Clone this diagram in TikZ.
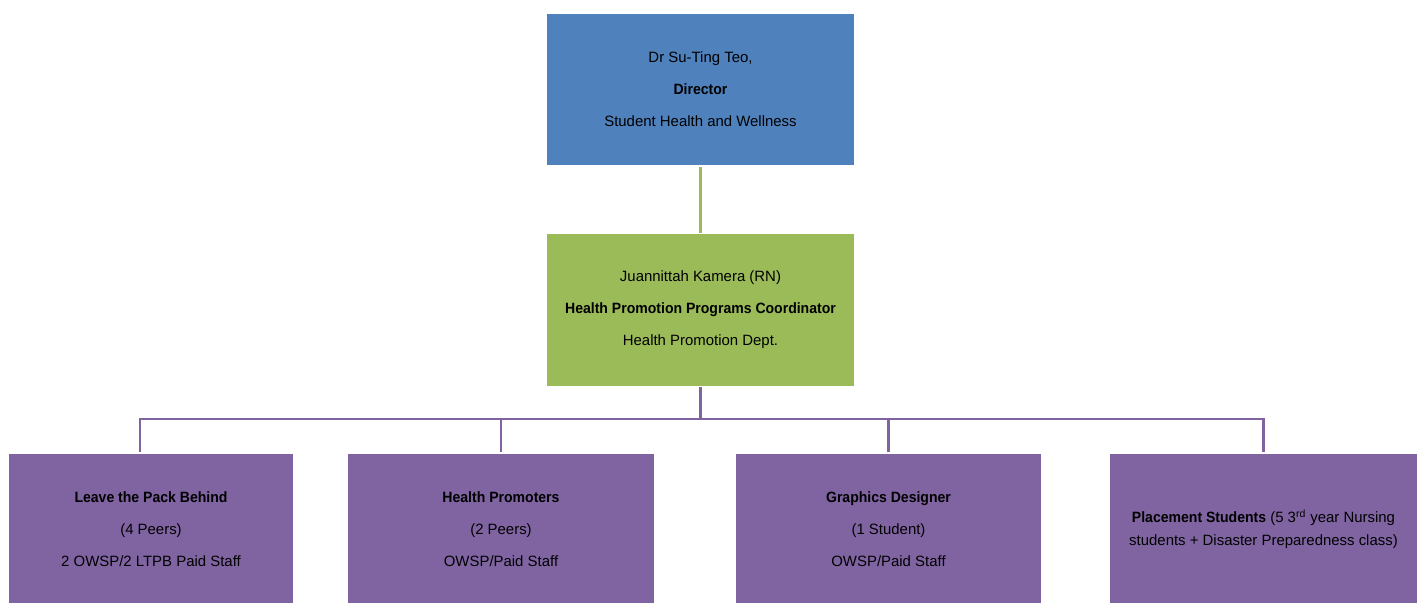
\documentclass[tikz,border=0pt]{standalone}
\usepackage{fontspec}
\setmainfont{Liberation Sans}[BoldFeatures={FakeStretch=0.94}]
\usepackage{xcolor}
\usetikzlibrary{positioning,shadows}
\definecolor{dirblue}{HTML}{4F81BD}
\definecolor{hpgreen}{HTML}{9BBB59}
\definecolor{teampurple}{HTML}{8064A2}

\begin{document}
\begin{tikzpicture}[x=0.2mm, y=-0.2mm,
  node distance=13.2mm,
  card/.style={draw=white, line width=0.6pt, align=center, minimum height=30.6mm,
              minimum width=61.8mm, inner sep=0pt,
              font=\fontsize{8.5}{18.2}\selectfont,
              drop shadow={opacity=0.35, shadow xshift=0.6pt, shadow yshift=-0.6pt}},
  topbox/.style={card, fill=dirblue},
  midbox/.style={card, fill=hpgreen},
  teambox/.style={card, fill=teampurple},
  gline/.style={draw=hpgreen, line width=1.5pt},
  pline/.style={draw=teampurple, line width=1.5pt}]
\useasboundingbox (0,0) rectangle (1423,602);
\node[topbox] (dir) at (700.5,89.5) {Dr Su-Ting Teo,\\\textbf{Director}\\Student Health and Wellness};
\node[midbox, below=of dir] (hpc) {Juannittah Kamera (RN)\\\textbf{Health Promotion Programs Coordinator}\\Health Promotion Dept.};
\node[teambox, minimum width=57.2mm] (ltpb) at (151,529.5) {\textbf{Leave the Pack Behind}\\(4 Peers)\\2 OWSP/2 LTPB Paid Staff};
\node[teambox, minimum width=61.6mm] (prom) at (501,529.5) {\textbf{Health Promoters}\\(2 Peers)\\OWSP/Paid Staff};
\node[teambox, minimum width=61.4mm] (gfx) at (888.5,529.5) {\textbf{Graphics Designer}\\(1 Student)\\OWSP/Paid Staff};
\node[teambox, font=\fontsize{8.5}{13}\selectfont] (plc) at (1263.5,529.5) {\textbf{Placement Students} (5 3\textsuperscript{rd} year Nursing\\students + Disaster Preparedness class)};
\coordinate (bus) at (700.5,419);
\draw[gline] (dir) -- (hpc);
\draw[pline] (hpc.south) -- (bus) -| ([xshift=-2.2mm]ltpb.north);
\draw[pline] (bus) -| (prom.north);
\draw[pline] (bus) -| (gfx.north);
\draw[pline] (bus) -| (plc.north);
\end{tikzpicture}
\end{document}
